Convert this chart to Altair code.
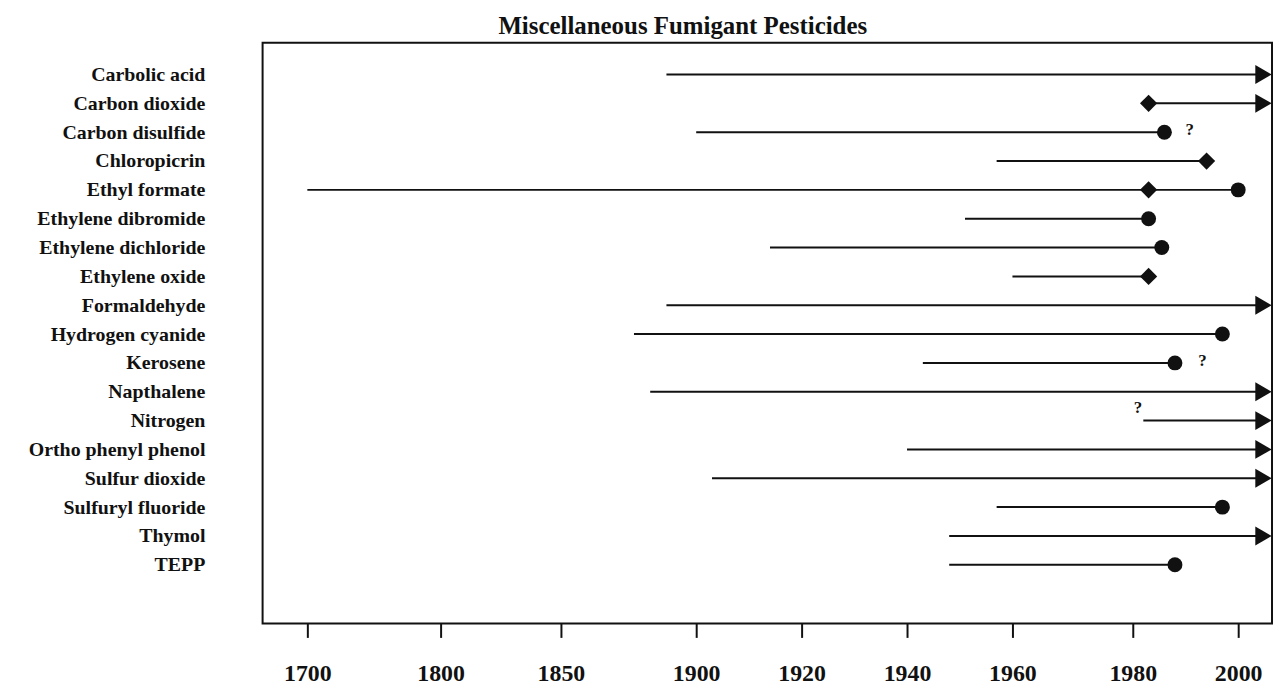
import altair as alt
import pandas as pd

# ---------------- data ----------------
names = ["Carbolic acid", "Carbon dioxide", "Carbon disulfide", "Chloropicrin",
         "Ethyl formate", "Ethylene dibromide", "Ethylene dichloride", "Ethylene oxide",
         "Formaldehyde", "Hydrogen cyanide", "Kerosene", "Napthalene", "Nitrogen",
         "Ortho phenyl phenol", "Sulfur dioxide", "Sulfuryl fluoride", "Thymol", "TEPP"]
start_year = [1889, 1983, 1900, 1957, 1700, 1951, 1914, 1960, 1889,
              1877, 1943, 1883, 1982, 1940, 1903, 1957, 1948, 1948]
end_year = [2004, 2004, 1986, 1994, 2000, 1983, 1985.5, 1983, 2004,
            1997, 1988, 2004, 2004, 2004, 2004, 1997, 2004, 1988]

circle_names = ["Carbon disulfide", "Ethyl formate", "Ethylene dibromide",
                "Ethylene dichloride", "Hydrogen cyanide", "Kerosene",
                "Sulfuryl fluoride", "TEPP"]
circle_years = [1986, 2000, 1983, 1985.5, 1997, 1988, 1997, 1988]

diamond_names = ["Carbon dioxide", "Chloropicrin", "Ethyl formate", "Ethylene oxide"]
diamond_years = [1983, 1994, 1983, 1983]

arrow_names = ["Carbolic acid", "Carbon dioxide", "Formaldehyde", "Napthalene",
               "Nitrogen", "Ortho phenyl phenol", "Sulfur dioxide", "Thymol"]
arrow_years = [2004.8] * len(arrow_names)

query_inline_names = ["Carbon disulfide", "Kerosene"]
query_inline_years = [1990.8, 1993.2]
query_above_names = ["Nitrogen"]
query_above_years = [1981.0]

tick_years = [1700, 1800, 1850, 1900, 1920, 1940, 1960, 1980, 2000]

# ---------------- tables ----------------
lines_df = pd.DataFrame({"name": names, "start": start_year, "end": end_year})
circ_df = pd.DataFrame({"name": circle_names, "year": circle_years})
diam_df = pd.DataFrame({"name": diamond_names, "year": diamond_years})
arr_df = pd.DataFrame({"name": arrow_names, "year": arrow_years})
q1_df = pd.DataFrame({"name": query_inline_names, "year": query_inline_years, "t": ["?"] * 2})
q2_df = pd.DataFrame({"name": query_above_names, "year": query_above_years, "t": ["?"]})

FONT = "Liberation Serif"
INK = "#111111"
W, H = 1015, 584

# piecewise (non-linear) time axis like the original
xscale = alt.Scale(
    domain=tick_years + [2010],
    range=[45, 179, 300, 436, 542, 648, 754, 875, 981, 1034],
    zero=False, nice=False,
)
yscale = alt.Scale(type="point", domain=names, range=[32, 525], padding=0)

xaxis = alt.Axis(
    values=tick_years, format="d", title=None, grid=False, domain=False,
    ticks=True, tickSize=14, tickWidth=2, tickColor=INK,
    labelFont=FONT, labelFontSize=24, labelFontWeight="bold", labelColor=INK,
    labelPadding=24, labelFlush=False, labelOverlap=False,
)
yaxis = alt.Axis(
    title=None, grid=False, domain=False, ticks=False,
    labelFont=FONT, labelFontSize=20, labelFontWeight="bold", labelColor=INK,
    labelPadding=58, labelAlign="right",
)

X = lambda f: alt.X(f, type="quantitative", scale=xscale, axis=xaxis)
Y = alt.Y("name:N", scale=yscale, axis=yaxis, sort=names)

rules = alt.Chart(lines_df).mark_rule(color=INK, strokeWidth=2).encode(
    x=X("start"), x2="end", y=Y
)
circles = alt.Chart(circ_df).mark_point(
    shape="circle", filled=True, size=225, color=INK, opacity=1
).encode(x=X("year"), y=Y)
diamonds = alt.Chart(diam_df).mark_point(
    shape="diamond", filled=True, size=300, color=INK, opacity=1
).encode(x=X("year"), y=Y)
arrows = alt.Chart(arr_df).mark_point(
    shape="triangle-right", filled=True, size=360, color=INK, opacity=1
).encode(x=X("year"), y=Y)
q_inline = alt.Chart(q1_df).mark_text(
    font=FONT, fontSize=17, fontWeight="bold", color=INK, dy=-2
).encode(x=X("year"), y=Y, text="t:N")
q_above = alt.Chart(q2_df).mark_text(
    font=FONT, fontSize=17, fontWeight="bold", color=INK, dy=-13
).encode(x=X("year"), y=Y, text="t:N")

chart = alt.layer(rules, circles, diamonds, arrows, q_inline, q_above).properties(
    width=W, height=H,
    title=alt.TitleParams(
        "Miscellaneous Fumigant Pesticides", font=FONT, fontSize=25,
        fontWeight="bold", color=INK, anchor="middle", dx=-85, offset=4,
    ),
    autosize=alt.AutoSizeParams(type="none"),
    padding={"left": 256, "top": 33, "right": 2, "bottom": 62},
).configure(background="white").configure_view(stroke=INK, strokeWidth=2)

chart.save("out.html", embed_options={"renderer": "svg", "actions": False})
